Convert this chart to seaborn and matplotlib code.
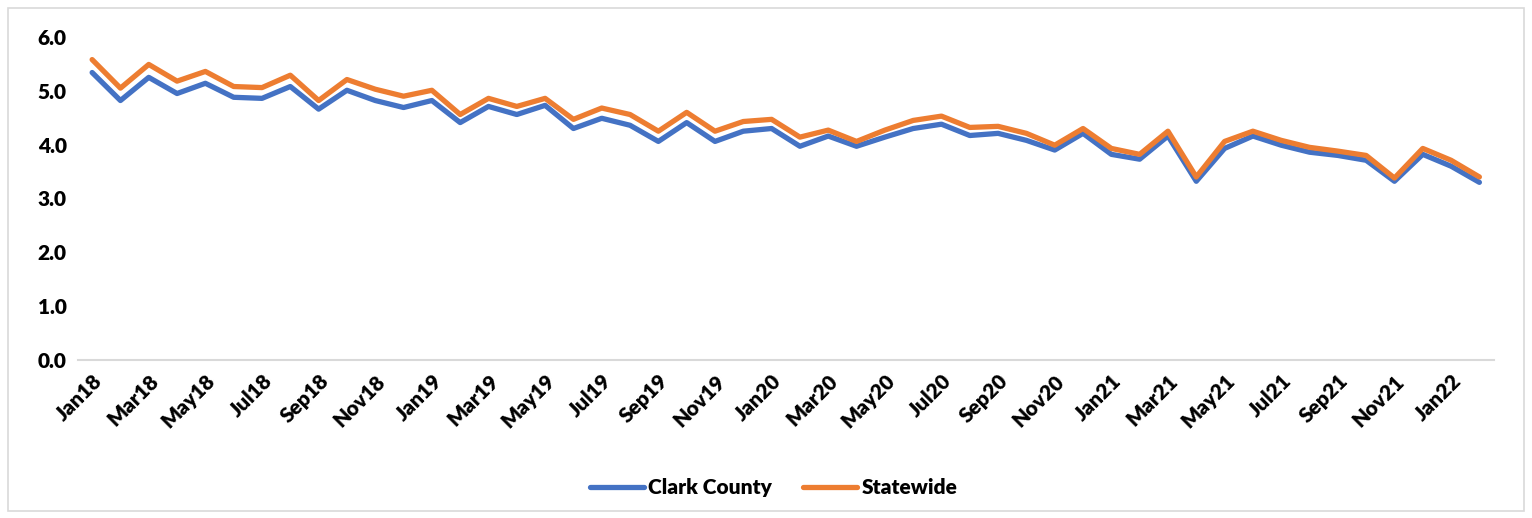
import numpy as np
import pandas as pd
import matplotlib
matplotlib.use("Agg")
import matplotlib.pyplot as plt
from matplotlib.patches import Rectangle
import seaborn as sns

# ----------------------------------------------------------------
# Data (monthly rates, Jan18 - Feb22)
# ----------------------------------------------------------------
months = ["Jan", "Feb", "Mar", "Apr", "May", "Jun",
          "Jul", "Aug", "Sep", "Oct", "Nov", "Dec"]
periods = [m + str(y) for y in range(18, 23) for m in months][:50]

clark_county = [5.34, 4.82, 5.25, 4.95, 5.14, 4.88, 4.86, 5.08, 4.66, 5.01,
                4.82, 4.69, 4.82, 4.41, 4.71, 4.56, 4.73, 4.30, 4.49, 4.36,
                4.06, 4.41, 4.06, 4.25, 4.30, 3.97, 4.16, 3.97, 4.14, 4.30,
                4.38, 4.17, 4.21, 4.08, 3.90, 4.21, 3.82, 3.73, 4.16, 3.32,
                3.93, 4.16, 3.99, 3.86, 3.80, 3.71, 3.32, 3.82, 3.60, 3.30]

statewide = [5.58, 5.05, 5.49, 5.18, 5.36, 5.08, 5.06, 5.29, 4.82, 5.21,
             5.03, 4.90, 5.01, 4.56, 4.86, 4.71, 4.86, 4.47, 4.68, 4.56,
             4.25, 4.60, 4.25, 4.43, 4.47, 4.14, 4.27, 4.06, 4.27, 4.45,
             4.53, 4.32, 4.34, 4.21, 3.99, 4.30, 3.93, 3.82, 4.25, 3.40,
             4.06, 4.25, 4.08, 3.95, 3.88, 3.80, 3.38, 3.93, 3.71, 3.40]

series_names = ["Clark County", "Statewide"]
colors = ["#4472C4", "#ED7D31"]
y_ticks = [0.0, 1.0, 2.0, 3.0, 4.0, 5.0, 6.0]

df = pd.DataFrame({
    "idx": list(range(len(periods))) * 2,
    "value": clark_county + statewide,
    "series": [series_names[0]] * len(periods) + [series_names[1]] * len(periods),
})

# ----------------------------------------------------------------
# Plot
# ----------------------------------------------------------------
sns.set_style("white")
plt.rcParams["font.family"] = ["Lato", "DejaVu Sans"]
plt.rcParams["text.color"] = "black"
plt.rcParams["xtick.color"] = "black"
plt.rcParams["ytick.color"] = "black"

fig = plt.figure(figsize=(15.32, 5.18), dpi=100)
ax = fig.add_axes([0.0509, 0.305, 0.924, 0.6236])

sns.lineplot(data=df, x="idx", y="value", hue="series",
             palette=dict(zip(series_names, colors)),
             linewidth=3.8, ax=ax, sort=False)

ax.set_xlim(-0.5, len(periods) - 0.5)
ax.set_ylim(0, 6)
ax.set_yticks(y_ticks)
ax.set_yticklabels([f"{v:.1f}" for v in y_ticks], fontsize=15, fontweight="heavy")
ax.set_xticks(range(0, len(periods), 2))
ax.set_xticklabels(periods[::2], rotation=45, ha="right",
                   rotation_mode="anchor", fontsize=15, fontweight="heavy")
ax.tick_params(axis="both", length=0, pad=8)
ax.set_xlabel("")
ax.set_ylabel("")

for side in ["top", "right", "left"]:
    ax.spines[side].set_visible(False)
ax.spines["bottom"].set_color("#D9D9D9")
ax.spines["bottom"].set_linewidth(1.5)

handles, labels = ax.get_legend_handles_labels()
ax.legend_.remove()
leg = fig.legend(handles, labels, loc="center", bbox_to_anchor=(0.505, 0.058),
                 ncol=2, frameon=False, handlelength=2.6, columnspacing=1.5,
                 handletextpad=0.2, prop={"size": 15, "weight": "heavy"})

fig.patches.append(Rectangle((0.005, 0.013), 0.99, 0.972, transform=fig.transFigure,
                             fill=False, edgecolor="#D9D9D9", linewidth=1.2))

fig.savefig("out.png", dpi=100)
